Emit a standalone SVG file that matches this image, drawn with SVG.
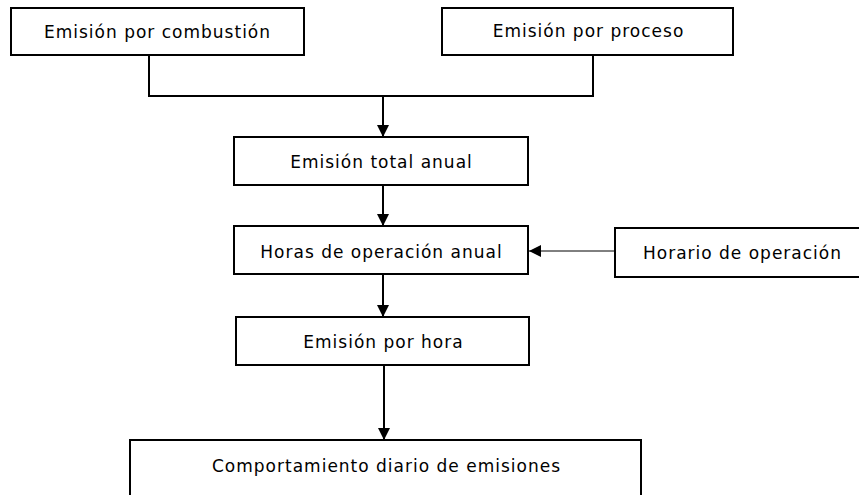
<svg xmlns="http://www.w3.org/2000/svg" width="859" height="495" viewBox="0 0 859 495">
<style>
.box{fill:#fff;stroke:#000;stroke-width:2}
.t{font-family:"DejaVu Sans",sans-serif;font-size:17px;letter-spacing:1px;fill:#000;text-anchor:middle}
.c{fill:none;stroke:#000;stroke-width:2}
.thin{fill:none;stroke:#000;stroke-width:1}
</style>
<defs>
<marker id="ah" markerWidth="12" markerHeight="12" refX="12" refY="6" orient="auto" markerUnits="userSpaceOnUse">
<path d="M0,0 L12,6 L0,12 Z" fill="#000"/>
</marker>
</defs>
<rect width="859" height="495" fill="#fff"/>
<g id="connectors">
<polyline class="c" points="149,55 149,96 593,96 593,55"/>
<line class="c" x1="383" y1="96" x2="383" y2="137" marker-end="url(#ah)"/>
<line class="c" x1="383" y1="185" x2="383" y2="226" marker-end="url(#ah)"/>
<line class="thin" x1="615" y1="251" x2="529" y2="251" marker-end="url(#ah)"/>
<line class="c" x1="383" y1="274" x2="383" y2="317" marker-end="url(#ah)"/>
<line class="c" x1="384" y1="365" x2="384" y2="440" marker-end="url(#ah)"/>
</g>
<g id="n1"><rect class="box" x="11" y="8" width="293" height="47"/><text class="t" x="157.5" y="38">Emisión por combustión</text></g>
<g id="n2"><rect class="box" x="442" y="8" width="291" height="47"/><text class="t" x="588.5" y="37">Emisión por proceso</text></g>
<g id="n3"><rect class="box" x="234" y="137" width="294" height="48"/><text class="t" x="381.5" y="168">Emisión total anual</text></g>
<g id="n4"><rect class="box" x="234" y="226" width="294" height="48"/><text class="t" x="381.5" y="258">Horas de operación anual</text></g>
<g id="n5"><rect class="box" x="615" y="228" width="260" height="49"/><text class="t" x="742.5" y="259">Horario de operación</text></g>
<g id="n6"><rect class="box" x="236" y="317" width="293" height="48"/><text class="t" x="383.5" y="348">Emisión por hora</text></g>
<g id="n7"><rect class="box" x="130" y="440" width="511" height="70"/><text class="t" x="386.5" y="472">Comportamiento diario de emisiones</text></g>
</svg>
